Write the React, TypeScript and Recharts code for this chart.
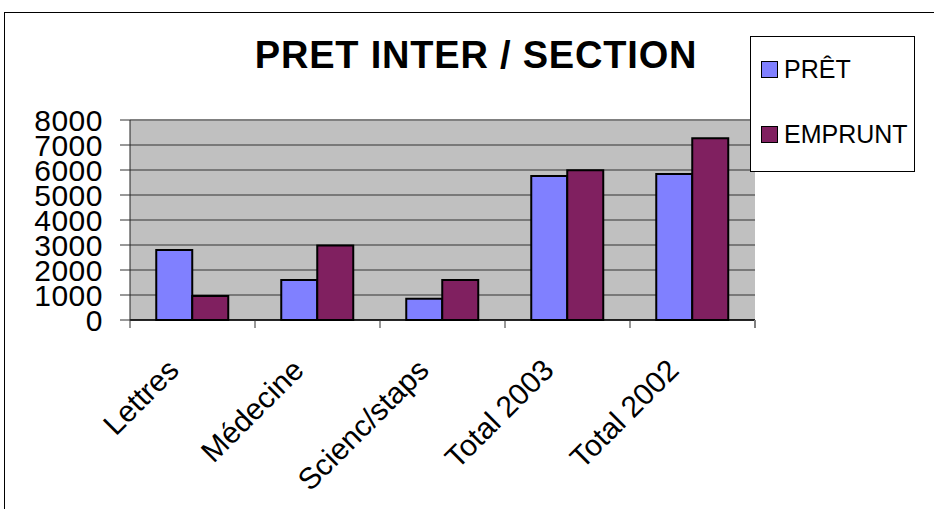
import React from 'react';
import { BarChart, Bar, XAxis, YAxis, CartesianGrid, Legend, ReferenceLine } from 'recharts';

const categories = ['Lettres', 'Médecine', 'Scienc/staps', 'Total 2003', 'Total 2002'];
const pretValues = [2800, 1600, 850, 5760, 5840];
const empruntValues = [960, 2980, 1600, 5990, 7270];
const yTicks = [0, 1000, 2000, 3000, 4000, 5000, 6000, 7000, 8000];
const seriesKeys = ['pret', 'emprunt'];
const seriesNames = { pret: 'PRÊT', emprunt: 'EMPRUNT' };
const chartTitle = 'PRET INTER / SECTION';

const data = categories.map((c, i) => ({
  name: c,
  pret: pretValues[i],
  emprunt: empruntValues[i],
}));

const FONT = '"Liberation Sans", Arial, sans-serif';

const XTick = (props: any) => {
  const { x, y, payload } = props;
  const i = payload?.index ?? props.index ?? 0;
  const half = payload?.offset ?? 62.5;
  const ax = x - 12;
  const ay = y + 44;
  return (
    <g>
      <line x1={x - half} x2={x - half} y1={y - 8} y2={y} stroke="#333" strokeWidth={1} />
      {i === categories.length - 1 && (
        <line x1={x + half} x2={x + half} y1={y - 8} y2={y} stroke="#808080" strokeWidth={2} />
      )}
      <text
        x={ax}
        y={ay}
        textAnchor="end"
        transform={`rotate(-45, ${ax}, ${ay})`}
        fontSize={30}
        fontFamily={FONT}
        fill="#000"
      >
        {payload.value}
      </text>
    </g>
  );
};

const renderLegend = (props: any) => {
  const payload = [...(props.payload || [])].sort(
    (a: any, b: any) => seriesKeys.indexOf(a.dataKey) - seriesKeys.indexOf(b.dataKey)
  );
  return (
    <div
      style={{
        width: 165,
        height: 136,
        border: '1px solid #000',
        background: '#fff',
        boxSizing: 'border-box',
        position: 'relative',
        fontFamily: FONT,
      }}
    >
      {payload.map((entry: any, idx: number) => (
        <div
          key={entry.value}
          style={{
            position: 'absolute',
            left: 10,
            top: idx === 0 ? 17 : 82,
            height: 30,
            display: 'flex',
            alignItems: 'center',
          }}
        >
          <span
            style={{
              display: 'inline-block',
              width: 15,
              height: 15,
              background: entry.color,
              border: '1px solid #000',
              marginRight: 6,
            }}
          />
          <span style={{ fontSize: 25, color: '#000', lineHeight: '30px' }}>{entry.value}</span>
        </div>
      ))}
    </div>
  );
};

export default function App() {
  return (
    <div style={{ position: 'absolute', left: 0, top: 0, width: 934, height: 509, background: '#fff', overflow: 'hidden' }}>
      <div
        style={{
          position: 'absolute',
          left: 4,
          top: 12,
          width: 960,
          height: 520,
          borderTop: '1px solid #000',
          borderLeft: '1px solid #000',
        }}
      />
      <div style={{ position: 'absolute', left: 0, top: 0 }}>
        <BarChart
          width={934}
          height={509}
          data={data}
          margin={{ top: 120, right: 179, bottom: 0, left: 0 }}
          barCategoryGap="21%"
          barGap={0}
        >
          <CartesianGrid fill="#C0C0C0" vertical={false} stroke="#333" strokeWidth={1} yAxisId="left" />
          <XAxis
            dataKey="name"
            height={189}
            interval={0}
            tickSize={8}
            tickMargin={0}
            tickLine={false}
            axisLine={{ stroke: '#000', strokeWidth: 1.5 }}
            tick={<XTick />}
          />
          <YAxis
            yAxisId="left"
            width={130}
            domain={[0, 8000]}
            ticks={yTicks}
            interval={0}
            tickSize={10}
            tickMargin={17}
            tickLine={{ stroke: '#333' }}
            axisLine={{ stroke: '#222' }}
            tick={{ fontSize: 30, fill: '#000', fontFamily: FONT, letterSpacing: 0.5 }}
          />
          <YAxis
            yAxisId="right"
            orientation="right"
            width={0}
            domain={[0, 8000]}
            tick={false}
            tickLine={false}
            axisLine={{ stroke: '#808080', strokeWidth: 2 }}
          />
          <ReferenceLine yAxisId="left" y={8000} stroke="#808080" strokeWidth={2} />
          <Legend
            layout="vertical"
            align="center"
            verticalAlign="middle"
            content={renderLegend}
            wrapperStyle={{ left: 750, top: 36, width: 165, height: 136 }}
          />
          <Bar
            yAxisId="left"
            dataKey="pret"
            name={seriesNames.pret}
            fill="#8080FF"
            stroke="#000"
            strokeWidth={2}
            isAnimationActive={false}
          />
          <Bar
            yAxisId="left"
            dataKey="emprunt"
            name={seriesNames.emprunt}
            fill="#802060"
            stroke="#000"
            strokeWidth={2}
            isAnimationActive={false}
          />
        </BarChart>
      </div>
      <div
        style={{
          position: 'absolute',
          left: 0,
          width: 952,
          top: 36,
          textAlign: 'center',
          fontFamily: FONT,
          fontWeight: 'bold',
          fontSize: 38,
          lineHeight: 1,
          letterSpacing: 0.8,
          color: '#000',
          pointerEvents: 'none',
        }}
      >
        {chartTitle}
      </div>
    </div>
  );
}
